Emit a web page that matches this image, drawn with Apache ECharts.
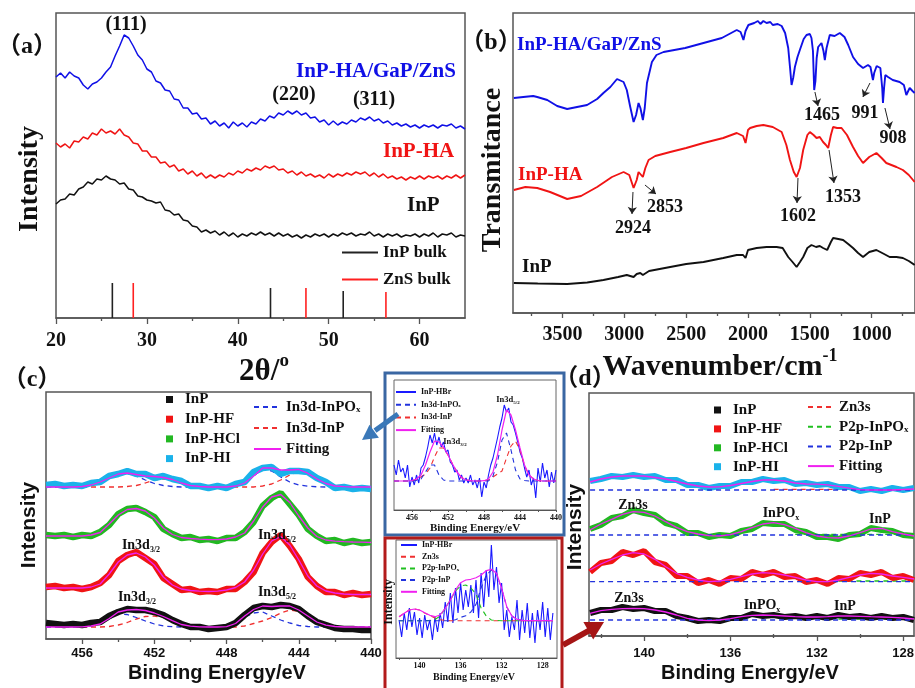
<!DOCTYPE html>
<html><head><meta charset="utf-8">
<script src="https://cdn.jsdelivr.net/npm/echarts@6/dist/echarts.min.js"></script>
<style>html,body{margin:0;padding:0;background:#fff}#c{width:915px;height:688px}</style>
</head><body><div id="c"></div>
<script>
const SERIF = '"Liberation Serif","Times New Roman","Noto Sans CJK SC",serif';
const SANS = '"Liberation Sans",Arial,sans-serif';
const BLUE = '#1010e6', RED = '#f01414', BLACK = '#111111', GREEN = '#22b822', CYAN = '#1ab2ea', MAG = '#f020f0';
const DBLUE = '#2233dd', DRED = '#f03030', DGREEN = '#20c020';

// ---------- (a) XRD ----------
const twoTheta = Array.from({length: 91}, (_, i) => 20 + i * 0.5);
const xrdComposite = [241,245,240,246,242,240,233,229,234,236, 240,246,251,262,272,283,280,272,263,258, 249,246,237,235,228,227,219,218,210,210, 204,205,199,200,194,197,192,195,190,196, 192,195,191,196,194,199,197,202,200,205, 203,207,204,207,203,205,200,201,196,198, 193,197,193,196,194,198,196,200,198,201, 197,199,195,197,193,195,192,194,191,193, 190,193,191,193,190,193,192,194,190,192, 189];
const xrdHA = [175,171,174,170,177,176,181,179,185,183, 189,185,187,184,189,183,181,175,174,167, 167,161,161,155,156,151,153,147,149,144, 147,142,145,140,143,140,143,141,145,143, 147,145,149,147,150,148,152,150,152,148, 149,145,147,143,146,142,144,141,143,140, 144,141,144,142,145,143,146,144,146,142, 145,141,144,140,142,139,141,138,141,139, 142,139,142,140,142,139,142,140,143,140, 143];
const xrdInP = [114,118,119,124,123,129,131,136,134,139, 138,142,139,138,134,135,129,128,122,121, 118,117,115,116,108,107,103,104,98,97, 92,91,86,88,85,87,83,86,82,85, 81,84,82,85,83,86,83,85,82,85, 82,84,81,83,80,83,81,84,82,84, 81,84,82,85,83,85,82,84,83,86, 82,84,81,84,82,84,81,83,82,84, 81,84,82,85,81,84,83,85,81,83, 82];
const inpBulkPos = [26.2, 43.6, 51.6], inpBulkH = [35, 30, 27];
const znsBulkPos = [28.5, 47.5, 56.3], znsBulkH = [35, 30, 26];
const xrdTicks = [20, 30, 40, 50, 60], xrdMinor = [25, 35, 45, 55];

// ---------- (b) FTIR ----------
const ftirComposite = [[3893,215],[3817,216],[3737,217],[3704,216],[3623,213],[3543,207],[3462,204],[3382,206],[3301,208],[3220,214],[3169,220],[3113,226],[3059,234],[3006,231],[2980,223],[2952,206],[2925,191],[2905,198],[2885,210],[2870,205],[2850,193],[2835,205],[2817,230],[2777,251],[2740,258],[2683,261],[2508,265],[2360,270],[2212,275],[2091,283],[2060,281],[2037,273],[2020,282],[1997,288],[1950,290],[1920,292],[1900,289],[1876,292],[1850,290],[1820,291],[1800,288],[1760,289],[1728,287],[1700,280],[1675,265],[1660,245],[1648,228],[1635,235],[1621,246],[1600,256],[1581,263],[1550,274],[1527,278],[1500,279],[1487,275],[1475,262],[1465,223],[1455,232],[1445,255],[1433,266],[1406,270],[1390,262],[1379,253],[1365,265],[1339,278],[1300,277],[1258,280],[1220,276],[1190,268],[1151,256],[1110,249],[1070,245],[1030,248],[1010,246],[995,236],[990,233],[980,240],[960,247],[949,248],[930,245],[915,225],[909,210],[900,225],[890,238],[868,236],[830,233],[774,231],[740,228],[720,218],[705,222],[693,225],[670,222],[653,220]];
const ftirHA = [[3893,123],[3800,126],[3704,125],[3600,121],[3462,114],[3350,117],[3220,126],[3100,136],[3006,141],[2960,138],[2925,125],[2900,133],[2885,141],[2870,141],[2850,136],[2830,145],[2804,153],[2750,157],[2629,161],[2500,165],[2360,170],[2200,175],[2091,180],[2040,177],[2020,170],[2000,183],[1983,185],[1930,187],[1876,188],[1800,186],[1728,181],[1690,168],[1661,153],[1630,141],[1607,136],[1580,145],[1554,163],[1520,178],[1500,181],[1470,178],[1446,175],[1420,176],[1393,171],[1370,168],[1352,165],[1330,178],[1312,186],[1280,185],[1244,185],[1200,178],[1151,166],[1110,157],[1070,150],[1020,156],[962,160],[920,155],[882,150],[800,146],[748,143],[700,138],[653,131]];
const ftirInP = [[3893,30],[3700,29.5],[3462,29],[3300,30.5],[3169,33],[3050,36],[2980,38],[2925,36],[2900,39],[2871,40],[2850,38],[2800,42],[2629,46],[2500,49],[2360,51],[2200,55],[2091,58],[2040,58],[2020,55],[2000,63],[1930,65],[1850,66],[1769,66],[1720,65],[1675,56],[1640,51],[1607,46],[1580,51],[1554,56],[1520,65],[1487,68],[1450,66],[1420,67],[1393,65],[1360,63],[1330,71],[1312,75],[1270,74],[1231,73],[1190,69],[1151,65],[1110,60],[1070,56],[1020,61],[962,63],[900,59],[855,56],[800,56],[748,55],[700,52],[653,48]];
const ftirArrowsTop = [[[1459,221],[1434,207]], [[1014,230],[1071,216]], [[893,205],[852,184]]];
const ftirArrowsMid = [[[2930,121],[2938,99]], [[2833,128],[2744,119]], [[1596,135],[1604,110]], [[1345,163],[1305,130]]];
const ftirTicks = [1000,1500,2000,2500,3000,3500], ftirMinor = [750,1250,1750,2250,2750,3250,3750];

// ---------- (c) XPS In3d ----------
const eC = Array.from({length: 37}, (_, i) => 458 - i * 0.5);
const cInP = [16,15,14,15,14,16,17,23,27,30, 29,29,27,24,19,15,12,12,10,11, 12,16,24,31,33,32,34,33,30,23, 17,14,11,10,10,9,9];
const cInPFit = [12,12,12,12,12.2,13,15,20.5,27,29, 29.5,28.5,26,22.5,18.3,14.5,12.8,12.2,12,12, 12.3,15.5,23,29.5,33,32.5,33,33,29,23, 17,13.8,12.5,12,12,12,12];
const cInPOxOfInP = [12,12,12,12,12.2,13,15,20,25,24.5, 21.5,18,15,13,12.3,12,12,12,12,12, 12.3,15.5,22,26,27,23,19,16,13.5,12.5, 12,12,12,12,12,12,12];
const cInPOfInP = [12,12,12,12,12,12,12,12.5,14,16.5, 20,22.5,23,21.5,18,14.5,12.8,12.2,12,12, 12,12,13,15.5,18,21.5,26,29,27.5,22.5, 17,13.8,12.5,12,12,12,12];
const cHF = [52,53,51,52,50,52,56,64,78,84, 87,81,75,61,55,49,50,47,48,47, 50,50,57,67,86,97,104,93,80,62, 53,47,47,44,46,44,45];
const cHFFit = [51,51,51,51,51,52,55,65,77,84, 86,82,74,62,54,50,48.5,47.8,47.5,47.8, 49,51.5,57,69,85,98,102.5,94,79,63, 53,48,46,45,44.5,44.5,44.5];
const cHCl = [104,103,104,102,104,103,107,114,125,130, 131,127,122,110,105,101,102,99,100,98, 101,101,107,117,133,141,146,135,124,110, 103,98,99,96,98,96,97];
const cHClFit = [103,103,103,103,103,104,106.5,115,124,129.5, 130.5,128,121,111,104.5,101.5,100.5,99.8,99.3,99.3, 100,102,106,118,132,142,144.5,136.5,123,111, 102.5,99,97.8,97.3,97,96.8,96.5];
const cHI = [154,155,153,154,153,156,157,163,165,168, 165,165,161,163,160,158,153,153,151,153, 151,155,157,167,171,172,165,168,168,167, 161,157,151,152,150,151,150];
const cHIFit = [152,152,152,152,152.5,154,157,161,165,166, 164.5,163,162.5,161.5,159.5,156,153.5,152.5,152,152, 152,153,156,163,171,171,169,169,169.5,165.8, 160.2,155.5,153,152.3,152,152,152];
const cInPOxOfHI = [152,152,152,152,152.5,154,157,161,165,165.5, 163,159,155.5,153.5,152.5,152,152,152,152,152, 152,153,156,163,170,168,162,157,154,152.8, 152.2,152,152,152,152,152,152];
const cInPOfHI = [152,152,152,152,152,152,152,152,152,152.5, 153.5,156,159,160,159,156,153.5,152.5,152,152, 152,152,152,152,153,155,159,164,167.5,165, 160,155.5,153,152.3,152,152,152];
const cTicks = [440,444,448,452,456], cMinor = [442,446,450,454];

// ---------- (d) XPS P2p / Zn3s ----------
const eD = Array.from({length: 31}, (_, i) => 142.5 - i * 0.5);
const dInP = [21,24,24,27,25,26,23,23,18,16, 13,14,13,16,16,20,18,19,17,18, 16,18,16,19,17,18,16,18,16,17, 14];
const dInPFit = [20.7,23.3,24.7,25.3,25.7,25.3,24,22,19,15.7, 14,13.3,14,15.3,17.3,18.7,19,18.7,18,17.3, 17,17,17.3,18,18,17.7,17.3,17,16.7,16, 15];
const dHF = [62,71,73,82,79,83,72,69,58,58, 51,54,50,56,55,62,59,62,57,58, 52,54,50,56,55,61,59,62,56,58, 54];
const dHFFit = [64,70,74.7,79,81.3,80,74.7,67.3,60.7,56.7, 54,52.3,53,54.7,57.3,60,61.3,60.7,59,56.7, 54,52.3,52.3,54,56.7,59,60.7,60,58,56.7, 55];
const dHCl = [105,109,116,118,124,121,119,111,108,101, 101,97,99,98,103,105,111,110,110,104, 102,97,97,95,99,100,106,104,103,99, 98];
const dHClFit = [104,110,114.7,119.7,122.3,121.7,118,112.3,106.7,102.3, 100,98.3,98,99.3,102.3,106.3,110,111.3,109.3,105.7, 101.3,98,96.3,96,98,101.3,105,105.7,102.3,100, 98];
const dHI = [153,155,158,157,159,157,158,154,154,149, 149,146,148,148,152,152,155,153,154,150, 151,149,150,147,147,143,145,143,146,144, 146];
const dHIFit = [152,155,157,158,158,158,156.5,155,152.5,150, 148,147,147.2,148.5,150.5,152.5,154,154,153,151, 150,149.8,149.2,147.7,145.8,144.3,144,144,144,144.5, 145];
const dBaselineInP = [[142.5,14],[127.5,14]], dBaselineHF = [[142.5,52.3],[127.5,52.3]];
const dBaselineHCl = [[142.5,99],[127.5,99]], dBaselineHI = [[142.5,144],[127.5,144]];
const dInPOxTailInP = [[131,15],[127.5,15]], dInPOxTailHF = [[131,53],[127.5,53]], dInPOxTailHCl = [[133,99.6],[127.5,99.6]];
const dZn3sTailHI = [[134,144.6],[130,144.6]];
const dLabels = [128,132,136,140], dTicks = [128,132,136,140], dMinor = [130,134,138,142];

// ---------- inset 1 (InP-HBr, In3d) ----------
const eIn1 = Array.from({length: 73}, (_, i) => 458 - i * 0.25);
const in1Data = [45,35,50,38,42,32,45,23,33,25, 35,27,42,45,53,63,75,67,77,65, 73,63,68,58,60,48,45,38,40,30, 35,27,32,27,35,25,30,22,32,13, 28,22,35,45,52,62,72,83,92,105, 98,102,88,85,77,68,58,52,42,33, 40,25,32,12,42,28,47,32,40,23, 38,27,40];
const in1Fit = [29,29,29,29,29.5,31,35,45,58,69, 68,63,55,46,38,32.5,30,29.3,29,29, 29.3,31,38,55,80,100,95,80,62,45, 35,31,29.5,29,29,29,29];
const in1InPOx = [29,29,29,29,29,29.5,31,38,45,45, 35,30,29,29,29,29,29,29,29,29, 29,29,34,48,70,77,60,40,31,29.5, 29,29,29,29,29,29,29];
const in1InP = [29,29,29,29,29,30.5,33,36,42,53, 62,62,55,46,38,32.5,30,29.3,29,29, 29.3,30,33,36,39,52,64,69,60,44.5, 35,31,29.5,29,29,29,29];

// ---------- inset 2 (InP-HBr, P2p) ----------
const eIn2 = Array.from({length: 61}, (_, i) => 142 - i * 0.25);
const eIn2Fit = Array.from({length: 31}, (_, i) => 142 - i * 0.5);
const in2Data = [38,21,45,28,50,31,46,23,40,20, 43,28,38,18,41,26,45,30,56,36, 65,35,70,45,75,48,68,51,73,45, 78,40,85,51,88,61,113,68,91,55, 75,28,48,21,41,28,58,18,48,25, 55,20,45,15,48,28,56,21,50,18, 45];
const in2Fit = [41.3,44.7,48,49,48,45.3,42.7,41.3,43,49.7, 58,68,75.3,78,78.7,80.3,83,87.3,88.7,84.7, 69.7,51.3,42,38.7,37.7,37.3,37.3,37.3,37.3,37.3, 37.3];
const in2Zn3s = [41.3,44.7,48,49,48,45,42.5,40,38.3,37.6, 37.3,37.3,37.3,37.3,37.3,37.3,37.3,37.3,37.3,37.3, 37.3,37.3,37.3,37.3,37.3,37.3,37.3,37.3,37.3,37.3, 37.3];
const in2InPOx = [37.3,37.3,37.3,37.3,37.3,37.3,37.5,38.5,42,50, 58,67,72,73,70,64,50,42,38,37.5, 37.3,37.3,37.3,37.3,37.3,37.3,37.3,37.3,37.3,37.3, 37.3];
const in2InP = [37.3,37.3,37.3,37.3,37.3,37.3,37.3,37.3,37.3,37.3, 37.3,38.3,40.6,42.3,46,53.6,70.3,82.6,88,84.5, 69.5,51,42,38.7,37.7,37.3,37.3,37.3,37.3,37.3, 37.3];

// ---------- helpers ----------
const pair = (xs, ys) => ys.map((y, i) => [xs[i], y]);
function L(name, g, data, color, width, dashed, extra) {
  return Object.assign({
    type: 'line', name, xAxisIndex: 2 * g, yAxisIndex: g, data, symbol: 'none', showSymbol: false,
    color, itemStyle: {color}, silent: true, animation: false,
    lineStyle: {color, width, type: dashed ? [5, 4] : 'solid'}
  }, extra || {});
}
function xPair(g, min, max, inverse, labels, major, minor, lab, tickLen, minorLen) {
  const base = {gridIndex: g, type: 'value', min, max, inverse, position: 'bottom', splitLine: {show: false}, minorSplitLine: {show: false}};
  return [
    Object.assign({}, base, {
      axisLine: {show: true, onZero: false, lineStyle: {color: '#555', width: g < 4 ? 1.5 : 1}},
      axisTick: {show: true, customValues: major, length: tickLen, lineStyle: {color: '#555', width: g < 4 ? 1.3 : 1}},
      axisLabel: Object.assign({customValues: labels, color: '#111', fontWeight: 'bold', formatter: v => String(v)}, lab)
    }),
    Object.assign({}, base, {
      axisLine: {show: false}, axisLabel: {show: false},
      axisTick: {show: true, customValues: minor, length: minorLen, lineStyle: {color: '#555', width: g < 4 ? 1.3 : 1}}
    })
  ];
}
function T(text, x, y, size, o) {
  o = o || {};
  return {type: 'text', x, y, rotation: o.rot || 0, z: 50, silent: true,
    style: {text, fill: o.color || '#111', font: `bold ${size}px ${o.family || SERIF}`, align: o.align || 'center', verticalAlign: 'middle'}};
}
function TS(main, sub, x, y, size, o) {
  o = o || {};
  const fam = o.family || SERIF, col = o.color || '#111', lh = Math.round(size * 1.3), ss = Math.round(size * (o.scale || 0.6));
  return {type: 'text', x, y, rotation: o.rot || 0, z: 50, silent: true,
    style: {text: `{m|${main}}{s|${sub}}`, align: o.align || 'center', verticalAlign: 'middle',
      rich: {m: {fontSize: size, fontFamily: fam, fontWeight: 'bold', fill: col, color: col, lineHeight: lh},
             s: {fontSize: ss, fontFamily: fam, fontWeight: 'bold', fill: col, color: col, lineHeight: ss, verticalAlign: o.sup ? 'top' : 'bottom'}}}};
}
const subFmt = name => { const m = name.match(/^(.*PO)x$/); return m ? `{m|${m[1]}}{s|x}` : `{m|${name}}`; };
function legendStyle(size) {
  return {rich: {m: {fontSize: size, fontFamily: SERIF, fontWeight: 'bold', color: '#111', lineHeight: size},
                 s: {fontSize: Math.round(size * 0.6), fontFamily: SERIF, fontWeight: 'bold', color: '#111', lineHeight: Math.round(size * 0.6), verticalAlign: 'bottom'}}};
}

const gridStyle = {show: true, borderColor: '#555', borderWidth: 1.5, backgroundColor: 'transparent', containLabel: false, outerBoundsMode: 'none'};
const insetGrid = {show: true, borderColor: '#666', borderWidth: 1, backgroundColor: 'transparent', containLabel: false, outerBoundsMode: 'none'};

const xAxes = [].concat(
  xPair(0, 20, 65, false, xrdTicks, xrdTicks, xrdMinor, {fontFamily: SERIF, fontSize: 20, margin: 13}, 6, 3),
  xPair(1, 650, 3900, true, ftirTicks, ftirTicks, ftirMinor, {fontFamily: SERIF, fontSize: 20, margin: 12}, 5, 3),
  xPair(2, 440, 458, true, cTicks, cTicks, cMinor, {fontFamily: SANS, fontSize: 13, margin: 8}, 5, 3),
  xPair(3, 127.5, 142.55, true, dLabels, dTicks, dMinor, {fontFamily: SANS, fontSize: 13, margin: 11}, 5, 4),
  xPair(4, 440, 458, true, cTicks, cTicks, cMinor, {fontFamily: SERIF, fontSize: 8, margin: 4}, 2, 2),
  xPair(5, 126.6, 142.3, true, dLabels, dTicks, dMinor, {fontFamily: SERIF, fontSize: 8, margin: 4}, 2, 2)
);
const yRanges = [[0, 305], [0, 300], [0, 247], [-2, 241], [0, 130], [0, 118]];
const yAxes = yRanges.map((r, g) => ({gridIndex: g, type: 'value', min: r[0], max: r[1], show: false}));

const arrowML = (arr) => ({silent: true, animation: false, symbol: ['none', 'arrow'], symbolSize: 7,
  label: {show: false}, lineStyle: {color: '#222', width: 1, type: 'solid'},
  data: arr.map(a => [{coord: a[0]}, {coord: a[1]}])});

const series = [
  // (a)
  L('XRD InP-HA/GaP/ZnS', 0, pair(twoTheta, xrdComposite), BLUE, 1.5),
  L('XRD InP-HA', 0, pair(twoTheta, xrdHA), RED, 1.5),
  L('XRD InP', 0, pair(twoTheta, xrdInP), BLACK, 1.5),
  {type: 'bar', name: 'InP bulk', xAxisIndex: 0, yAxisIndex: 0, barWidth: 1.6, barGap: '-100%', silent: true, animation: false,
   color: '#222', itemStyle: {color: '#222'}, data: pair(inpBulkPos, inpBulkH)},
  {type: 'bar', name: 'ZnS bulk', xAxisIndex: 0, yAxisIndex: 0, barWidth: 1.6, barGap: '-100%', silent: true, animation: false,
   color: '#ff2020', itemStyle: {color: '#ff2020'}, data: pair(znsBulkPos, znsBulkH)},
  // (b)
  L('FTIR InP-HA/GaP/ZnS', 1, ftirComposite, BLUE, 1.9, false, {markLine: arrowML(ftirArrowsTop)}),
  L('FTIR InP-HA', 1, ftirHA, RED, 1.9, false, {markLine: arrowML(ftirArrowsMid)}),
  L('FTIR InP', 1, ftirInP, BLACK, 1.9),
  // (c) components, data, fits
  L('In3d-InP', 2, pair(eC, cInPOfInP), DRED, 1.3, true),
  L('In3d-InPOx', 2, pair(eC, cInPOxOfInP), DBLUE, 1.3, true),
  L('In3d-InP', 2, pair(eC, cInPOfHI), DRED, 1.3, true),
  L('In3d-InPOx', 2, pair(eC, cInPOxOfHI), DBLUE, 1.3, true),
  L('InP', 2, pair(eC, cInP), BLACK, 6.5),
  L('InP-HF', 2, pair(eC, cHF), RED, 6.5),
  L('InP-HCl', 2, pair(eC, cHCl), GREEN, 6.5),
  L('InP-HI', 2, pair(eC, cHI), CYAN, 6.5),
  L('Fitting', 2, pair(eC, cInPFit), MAG, 1.3),
  L('Fitting', 2, pair(eC, cHFFit), MAG, 1.3),
  L('Fitting', 2, pair(eC, cHClFit), MAG, 1.3),
  L('Fitting', 2, pair(eC, cHIFit), MAG, 1.3),
  // (d)
  L('Zn3s', 3, dZn3sTailHI, DRED, 1.3, true),
  L('P2p-InPOx', 3, dInPOxTailInP, DGREEN, 1.3, true),
  L('P2p-InPOx', 3, dInPOxTailHF, DGREEN, 1.3, true),
  L('P2p-InPOx', 3, dInPOxTailHCl, DGREEN, 1.3, true),
  L('InP', 3, pair(eD, dInP), BLACK, 6),
  L('InP-HF', 3, pair(eD, dHF), RED, 6),
  L('InP-HCl', 3, pair(eD, dHCl), GREEN, 6),
  L('InP-HI', 3, pair(eD, dHI), CYAN, 6),
  L('P2p-InP', 3, dBaselineInP, DBLUE, 1.3, true),
  L('P2p-InP', 3, dBaselineHF, DBLUE, 1.3, true),
  L('P2p-InP', 3, dBaselineHCl, DBLUE, 1.3, true),
  L('P2p-InP', 3, dBaselineHI, DBLUE, 1.3, true),
  L('Fitting', 3, pair(eD, dInPFit), MAG, 1.3),
  L('Fitting', 3, pair(eD, dHFFit), MAG, 1.3),
  L('Fitting', 3, pair(eD, dHClFit), MAG, 1.3),
  L('Fitting', 3, pair(eD, dHIFit), MAG, 1.3),
  // inset 1
  L('InP-HBr', 4, pair(eIn1, in1Data), '#1a1aff', 1.1),
  L('In3d-InP', 4, pair(eC, in1InP), DRED, 1.1, true),
  L('In3d-InPOx', 4, pair(eC, in1InPOx), DBLUE, 1.1, true),
  L('Fitting', 4, pair(eC, in1Fit), MAG, 1.2),
  // inset 2
  L('InP-HBr', 5, pair(eIn2, in2Data), '#1a1aff', 1.1),
  L('Zn3s', 5, pair(eIn2Fit, in2Zn3s), DRED, 1.1, true),
  L('P2p-InPOx', 5, pair(eIn2Fit, in2InPOx), DGREEN, 1.1, true),
  L('P2p-InP', 5, pair(eIn2Fit, in2InP), DBLUE, 1.1, true),
  L('Fitting', 5, pair(eIn2Fit, in2Fit), MAG, 1.2)
];

const legendBase = {orient: 'vertical', padding: 0, selectedMode: false, formatter: subFmt};
const lineLeg = {itemStyle: {opacity: 0, borderWidth: 0}};
const legends = [
  Object.assign({}, legendBase, {data: ['InP bulk', 'ZnS bulk'], left: 342, top: 244, itemWidth: 36, itemHeight: 2, icon: 'rect', itemGap: 10,
    textStyle: legendStyle(17)}),
  Object.assign({}, legendBase, {data: ['InP', 'InP-HF', 'InP-HCl', 'InP-HI'], left: 166, top: 392, itemWidth: 7, itemHeight: 7, icon: 'rect', itemGap: 4.7,
    textStyle: Object.assign(legendStyle(15), {padding: [0, 0, 0, 7]})}),
  Object.assign({}, legendBase, lineLeg, {data: ['In3d-InPOx', 'In3d-InP', 'Fitting'], left: 253, top: 399.5, itemWidth: 27, itemHeight: 10, itemGap: 6,
    textStyle: legendStyle(15)}),
  Object.assign({}, legendBase, {data: ['InP', 'InP-HF', 'InP-HCl', 'InP-HI'], left: 714, top: 402.5, itemWidth: 7, itemHeight: 7, icon: 'rect', itemGap: 3.9,
    textStyle: Object.assign(legendStyle(15), {padding: [0, 0, 0, 7]})}),
  Object.assign({}, legendBase, lineLeg, {data: ['Zn3s', 'P2p-InPOx', 'P2p-InP', 'Fitting'], left: 807, top: 399.5, itemWidth: 26, itemHeight: 10, itemGap: 4.7,
    textStyle: legendStyle(15)}),
  Object.assign({}, legendBase, lineLeg, {data: ['InP-HBr', 'In3d-InPOx', 'In3d-InP', 'Fitting'], left: 395, top: 388, itemWidth: 20, itemHeight: 6, itemGap: 4.7,
    textStyle: legendStyle(8)}),
  Object.assign({}, legendBase, lineLeg, {data: ['InP-HBr', 'Zn3s', 'P2p-InPOx', 'P2p-InP', 'Fitting'], left: 400, top: 541, itemWidth: 16, itemHeight: 6, itemGap: 3.7,
    textStyle: legendStyle(8)})
];

const R90 = Math.PI / 2;
const graphics = [
  // inset frames
  {type: 'rect', z: 40, silent: true, shape: {x: 385, y: 373, width: 179, height: 162}, style: {fill: 'none', stroke: '#3a67a3', lineWidth: 3}},
  {type: 'rect', z: 40, silent: true, shape: {x: 385, y: 538, width: 177, height: 160}, style: {fill: 'none', stroke: '#b31b1b', lineWidth: 3}},
  // pointer arrows
  {type: 'line', z: 41, silent: true, shape: {x1: 398, y1: 414, x2: 375, y2: 430.6}, style: {stroke: '#3a78b8', lineWidth: 5}},
  {type: 'polygon', z: 41, silent: true, shape: {points: [[362, 440], [378.9, 437.7], [369.5, 424.7]]}, style: {fill: '#3a78b8'}},
  {type: 'line', z: 41, silent: true, shape: {x1: 563, y1: 645, x2: 590, y2: 630}, style: {stroke: '#a51515', lineWidth: 6}},
  {type: 'polygon', z: 41, silent: true, shape: {points: [[604, 622], [583.4, 622.1], [593.2, 639.5]]}, style: {fill: '#a51515'}},
  // (a)
  T('（a）', 27, 47, 24),
  T('(111)', 126, 25, 20), T('(220)', 294, 95, 20), T('(311)', 374, 100, 20),
  T('InP-HA/GaP/ZnS', 296, 72, 21, {align: 'left', color: BLUE}),
  T('InP-HA', 383, 152, 21, {align: 'left', color: RED}),
  T('InP', 407, 206, 21, {align: 'left'}),
  T('Intensity', 30, 179, 28, {rot: R90}),
  TS('2θ/', 'o', 264, 372, 31, {sup: true}),
  // (b)
  T('（b）', 491, 43, 24),
  T('InP-HA/GaP/ZnS', 517, 45, 19, {align: 'left', color: BLUE}),
  T('InP-HA', 518, 175, 19, {align: 'left', color: RED}),
  T('InP', 522, 267, 19, {align: 'left'}),
  T('1465', 822, 115, 18), T('991', 865, 113, 18), T('908', 893, 138, 18),
  T('2924', 633, 228, 18), T('2853', 665, 207, 18), T('1602', 798, 216, 18), T('1353', 843, 197, 18),
  T('Transmitance', 493, 170, 28, {rot: R90}),
  TS('Wavenumber/cm', '-1', 720, 367, 30, {sup: true}),
  // (c)
  T('（c）', 32, 380, 24),
  TS('In3d', '3/2', 141, 545, 14), TS('In3d', '5/2', 277, 535, 14),
  TS('In3d', '3/2', 137, 597, 14), TS('In3d', '5/2', 277, 592, 14),
  T('Intensity', 29, 525, 21, {rot: R90, family: SANS}),
  T('Binding Energy/eV', 217, 673, 20, {family: SANS}),
  // (d)
  T('（d）', 585, 379, 24),
  T('Zn3s', 633, 505, 14), TS('InPO', 'x', 781, 513, 14), T('InP', 880, 519, 14),
  T('Zn3s', 629, 598, 14), TS('InPO', 'x', 762, 605, 14), T('InP', 845, 606, 14),
  T('Intensity', 575, 527, 21, {rot: R90, family: SANS}),
  T('Binding Energy/eV', 750, 673, 20, {family: SANS}),
  // inset 1
  TS('In3d', '5/2', 508, 400, 8.5), TS('In3d', '3/2', 455, 442, 8.5),
  T('Binding Energy/eV', 475, 528, 11),
  // inset 2
  T('Intensity', 389, 602, 12, {rot: R90}),
  T('Binding Energy/eV', 474, 677, 10)
];

const chart = echarts.init(document.getElementById('c'), null, {renderer: 'canvas'});
chart.setOption({
  animation: false,
  backgroundColor: '#fff',
  grid: [
    Object.assign({left: 56, top: 13, width: 409, height: 305}, gridStyle),
    Object.assign({left: 513, top: 13, width: 402, height: 300}, gridStyle),
    Object.assign({left: 46, top: 392, width: 325, height: 247}, gridStyle),
    Object.assign({left: 589, top: 393, width: 325, height: 243}, gridStyle),
    Object.assign({left: 394, top: 380, width: 162, height: 130}, insetGrid),
    Object.assign({left: 396, top: 540, width: 161, height: 118}, insetGrid)
  ],
  xAxis: xAxes,
  yAxis: yAxes,
  legend: legends,
  series,
  graphic: graphics
});
</script></body></html>
